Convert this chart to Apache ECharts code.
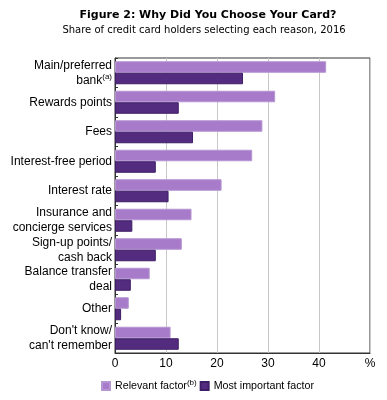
<!DOCTYPE html>
<html><head><meta charset="utf-8">
<script src="https://cdn.jsdelivr.net/npm/echarts@6/dist/echarts.min.js"></script>
<style>html,body{margin:0;padding:0;background:#fff}#c{width:387px;height:400px}</style>
</head><body><div id="c"></div>
<script>
const categories = ['Main/preferred\nbank{sup|(a)}', 'Rewards points', 'Fees', 'Interest-free period', 'Interest rate',
  'Insurance and\nconcierge services', 'Sign-up points/\ncash back', 'Balance transfer\ndeal', 'Other', "Don't know/\ncan't remember"];
const relevant = [41.4, 31.4, 28.9, 26.9, 20.9, 15.0, 13.1, 6.8, 2.7, 10.9];
const mostImportant = [25.1, 12.5, 15.3, 8.0, 10.5, 3.4, 8.0, 3.1, 1.2, 12.5];
const xTicks = ['0', '10', '20', '30', '40', '%'];

const chart = echarts.init(document.getElementById('c'));
chart.setOption({
  animation: false,
  graphic: [
    {type: 'text', x: 208, y: 15, style: {text: 'Figure 2: Why Did You Choose Your Card?', fontFamily: 'DejaVu Sans',
      fontWeight: 'bold', fontSize: 11, fill: '#000', align: 'center', verticalAlign: 'middle'}},
    {type: 'text', x: 204, y: 30, style: {text: 'Share of credit card holders selecting each reason, 2016', fontFamily: 'DejaVu Sans',
      fontSize: 10, fill: '#000', align: 'center', verticalAlign: 'middle'}}
  ],
  legend: {
    left: 101, top: 379, padding: 0, itemWidth: 8, itemHeight: 8, itemGap: 3, icon: 'rect',
    textStyle: {fontFamily: 'Liberation Sans', fontSize: 10.7, color: '#000',
      rich: {sup: {fontFamily: 'Liberation Sans', fontSize: 8, padding: [0,0,6,0], color: '#000'}}},
    formatter: n => n === 'Relevant factor' ? 'Relevant factor{sup|(b)}' : n,
    data: ['Relevant factor', 'Most important factor']
  },
  grid: {left: 115, right: 17, top: 58, bottom: 47, show: true, borderColor: '#333', borderWidth: 1, containLabel: false},
  xAxis: {
    type: 'value', min: 0, max: 50, interval: 10,
    axisLine: {show: true, lineStyle: {color: '#333'}}, axisTick: {show: false},
    splitLine: {show: true, lineStyle: {color: '#c8c8c8'}},
    axisLabel: {color: '#000', fontFamily: 'Liberation Sans', fontSize: 12, margin: 5,
      formatter: (v) => xTicks[Math.round(v / 10)]}
  },
  yAxis: {
    type: 'category', inverse: true, data: categories,
    axisLine: {show: true, lineStyle: {color: '#333'}},
    axisTick: {show: true, inside: true, length: 3, lineStyle: {color: '#333'}},
    axisLabel: {color: '#000', fontFamily: 'Liberation Sans', fontSize: 12, margin: 3, lineHeight: 15,
      rich: {sup: {fontFamily: 'Liberation Sans', fontSize: 8, padding: [0,0,6,0], color: '#000'}}}
  },
  series: [
    {name: 'Relevant factor', type: 'bar', data: relevant, barGap: '0%', barCategoryGap: '22%',
      itemStyle: {color: '#A77BC9', borderColor: '#B595D2', borderWidth: 1}},
    {name: 'Most important factor', type: 'bar', data: mostImportant, barGap: '0%', barCategoryGap: '22%',
      itemStyle: {color: '#532C80', borderColor: '#3E1E66', borderWidth: 1}}
  ]
});
</script></body></html>
